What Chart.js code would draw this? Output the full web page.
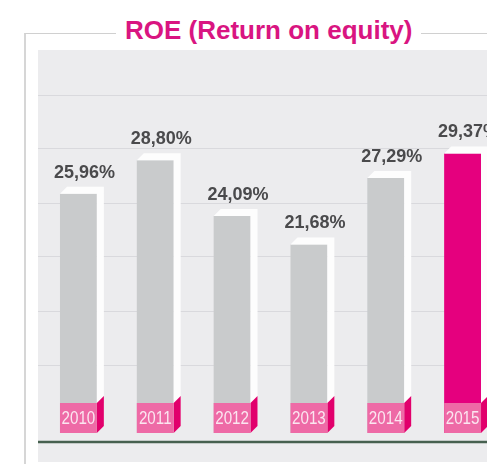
<!DOCTYPE html>
<html>
<head>
<meta charset="utf-8">
<title>ROE (Return on equity)</title>
<script src="https://cdn.jsdelivr.net/npm/chart.js@4.4.1/dist/chart.umd.min.js"></script>
<style>
    html, body { margin: 0; padding: 0; background: #fff; }
    #wrap { position: relative; width: 487px; height: 464px; overflow: hidden; }
    #frame {
        position: absolute; left: 24px; top: 33px; width: 520px; height: 500px;
        border-left: 2px solid #d6d6d6; border-top: 1px solid #d0d0d0;
    }
    #title {
        position: absolute; left: 116px; top: 15px; padding: 0 9px; background: #fff;
        font: bold 26px 'Liberation Sans', Arial, sans-serif; line-height: 30px;
        color: #d91581; white-space: nowrap;
    }
    #chart { position: absolute; left: 0; top: 0; }
</style>
</head>
<body>
<div id="wrap">
    <div id="frame"></div>
    <div id="title">ROE (Return on equity)</div>
    <canvas id="chart" width="502" height="464"></canvas>
</div>
<script>
// Data
const years = ['2010', '2011', '2012', '2013', '2014', '2015'];
const roeValues = [25.96, 28.80, 24.09, 21.68, 27.29, 29.37];
const highlightYear = '2015';
const gridLevels = [11.5, 16.1, 20.7, 25.2, 29.8, 34.3];

// Colours
const GREY_BAR = '#c9cbcc';
const PINK_BAR = '#e5007e';
const LABEL_FRONT = '#ee6aa6';
const LABEL_SIDE = '#e1006c';
const PLOT_BG = '#ececee';

function formatPct(v) {
    return v.toFixed(2).replace('.', ',') + '%';
}

// Draws the background, grid, 3D caps, year tags, value labels and axis line
const roeDecor = {
    id: 'roeDecor',
    beforeDraw(chart) {
        const { ctx, chartArea, scales } = chart;
        ctx.save();
        ctx.fillStyle = PLOT_BG;
        ctx.fillRect(chartArea.left - 2, chartArea.top, chart.width, chartArea.bottom - chartArea.top + 20);
        ctx.strokeStyle = '#d9d9dd';
        ctx.lineWidth = 1;
        gridLevels.forEach(v => {
            const y = Math.round(scales.y.getPixelForValue(v)) + 0.5;
            ctx.beginPath();
            ctx.moveTo(chartArea.left - 2, y);
            ctx.lineTo(chart.width, y);
            ctx.stroke();
        });
        ctx.restore();
    },
    afterDatasetsDraw(chart) {
        const { ctx, chartArea } = chart;
        const meta = chart.getDatasetMeta(0);
        const dx = 7, dy = -7, tag = 30;
        ctx.save();
        meta.data.forEach((bar, i) => {
            const p = bar.getProps(['x', 'y', 'base', 'width'], true);
            const x0 = p.x - p.width / 2, x1 = p.x + p.width / 2;

            // white top and side
            ctx.fillStyle = '#fdfdfd';
            ctx.beginPath();
            ctx.moveTo(x0, p.y);
            ctx.lineTo(x0 + dx, p.y + dy);
            ctx.lineTo(x1 + dx, p.y + dy);
            ctx.lineTo(x1 + dx, p.base + dy);
            ctx.lineTo(x1, p.base);
            ctx.lineTo(x1, p.y);
            ctx.closePath();
            ctx.fill();

            // year tag
            ctx.fillStyle = LABEL_SIDE;
            ctx.beginPath();
            ctx.moveTo(x1, p.base - tag);
            ctx.lineTo(x1 + dx, p.base - tag + dy);
            ctx.lineTo(x1 + dx, p.base + dy);
            ctx.lineTo(x1, p.base);
            ctx.closePath();
            ctx.fill();
            ctx.fillStyle = LABEL_FRONT;
            ctx.fillRect(x0, p.base - tag, p.width, tag);

            // condensed year text
            ctx.save();
            ctx.translate(p.x, p.base - tag / 2 + 1);
            ctx.scale(0.8, 1);
            ctx.fillStyle = '#fbe6f0';
            ctx.font = "19px 'Liberation Sans', Arial, sans-serif";
            ctx.textAlign = 'center';
            ctx.textBaseline = 'middle';
            ctx.fillText(years[i], 0, 0);
            ctx.restore();

            // value
            ctx.fillStyle = '#4a4a4c';
            ctx.font = "bold 18px 'Liberation Sans', Arial, sans-serif";
            ctx.textAlign = 'center';
            ctx.textBaseline = 'alphabetic';
            ctx.fillText(formatPct(roeValues[i]), p.x + 6, p.y - 16);
        });

        // axis line
        ctx.strokeStyle = '#46604f';
        ctx.lineWidth = 2.5;
        ctx.beginPath();
        ctx.moveTo(chartArea.left - 2, chartArea.bottom);
        ctx.lineTo(chart.width, chartArea.bottom);
        ctx.stroke();
        ctx.restore();
    }
};

new Chart(document.getElementById('chart'), {
    type: 'bar',
    data: {
        labels: years,
        datasets: [{
            label: 'ROE',
            data: roeValues,
            base: 5.76,
            backgroundColor: years.map(y => y === highlightYear ? PINK_BAR : GREY_BAR),
            barPercentage: 0.48,
            categoryPercentage: 1
        }]
    },
    options: {
        responsive: false,
        animation: false,
        layout: { padding: { left: 40, right: 1, top: 50, bottom: 22 } },
        scales: {
            x: { display: false },
            y: { display: false, min: 5, max: 38.1 }
        },
        plugins: {
            legend: { display: false },
            tooltip: { enabled: false },
            title: { display: false }
        }
    },
    plugins: [roeDecor]
});
</script>
</body>
</html>
